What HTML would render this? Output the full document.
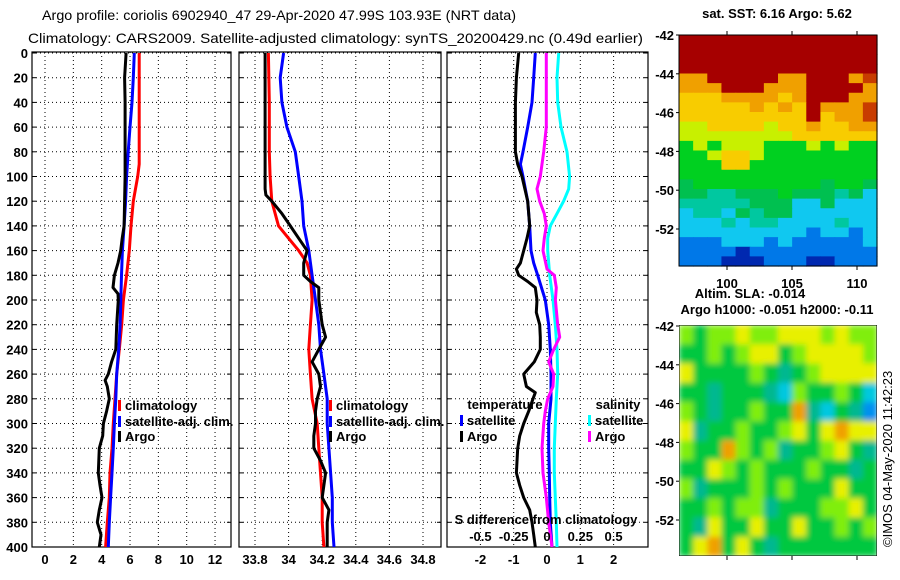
<!DOCTYPE html>
<html><head><meta charset="utf-8"><style>
html,body{margin:0;padding:0;background:#fff;}
svg{display:block;font-family:"Liberation Sans",sans-serif;}
.t{font-size:13px;font-weight:bold;fill:#000;}
.h{font-size:14px;fill:#000;}
</style></head><body>
<svg id="chart" width="900" height="580" viewBox="0 0 900 580" xmlns="http://www.w3.org/2000/svg">
<defs>
<clipPath id="c1"><rect x="32" y="52" width="199" height="495"/></clipPath>
<clipPath id="c2"><rect x="239" y="52" width="202" height="495"/></clipPath>
<clipPath id="c3"><rect x="447" y="52" width="201" height="495"/></clipPath>
<clipPath id="cm2"><rect x="679" y="325" width="198" height="231"/></clipPath>
<filter id="blur"><feGaussianBlur stdDeviation="3"/></filter>
</defs>
<text class="h" x="42" y="20" textLength="474" lengthAdjust="spacingAndGlyphs">Argo profile: coriolis 6902940_47 29-Apr-2020 47.99S 103.93E (NRT data)</text>
<text class="h" x="28" y="43" textLength="615" lengthAdjust="spacingAndGlyphs">Climatology: CARS2009. Satellite-adjusted climatology: synTS_20200429.nc (0.49d earlier)</text>
<g id="g"></g>
</svg>
<script>
// ---- depth grid shared
const yTicks=[0,20,40,60,80,100,120,140,160,180,200,220,240,260,280,300,320,340,360,380,400];
// ---- Panel 1: temperature
const tTicks=[0,2,4,6,8,10,12];
const tClimDepth=[0,90,100,120,140,160,180,200,220,240,260,280,300,320,340,360,380,400];
const tClim=[6.65,6.65,6.54,6.23,6.07,5.95,5.76,5.53,5.41,5.24,5.06,4.94,4.82,4.73,4.59,4.54,4.40,4.28];
const tSatDepth=[0,20,40,60,80,100,120,140,160,180,200,220,240,260,280,300,320,340,360,380,400];
const tSat=[6.3,6.23,6.14,6.0,5.87,5.76,5.69,5.58,5.46,5.4,5.35,5.3,5.2,5.06,5.0,4.9,4.82,4.73,4.63,4.54,4.47];
const tArgoDepth=[0,20,40,100,140,150,160,170,180,190,195,200,220,240,250,260,265,270,280,290,300,310,320,340,350,360,370,380,390,400];
const tArgo=[5.72,5.62,5.65,5.65,5.58,5.45,5.34,5.15,4.9,4.8,5.15,5.17,5.06,5.0,4.7,4.47,4.24,4.4,4.54,4.35,4.12,4.07,3.83,3.76,3.88,4.02,3.83,3.69,3.95,3.83];
// ---- Panel 2: salinity
const sTicks=[33.8,34,34.2,34.4,34.6,34.8];
const sClimDepth=[0,40,80,100,120,140,150,160,170,180,200,220,240,260,280,300,320,340,360,380,400];
const sClim=[33.88,33.885,33.885,33.89,33.9,33.94,34.0,34.06,34.11,34.13,34.14,34.13,34.12,34.13,34.14,34.17,34.18,34.19,34.2,34.2,34.21];
const sSatDepth=[0,20,40,60,80,100,120,140,160,180,200,220,240,260,280,300,320,340,360,380,400];
const sSat=[33.97,33.95,33.96,33.99,34.04,34.06,34.08,34.09,34.12,34.14,34.16,34.18,34.19,34.21,34.23,34.23,34.24,34.25,34.26,34.26,34.27];
const sArgoDepth=[0,110,115,120,130,140,150,160,170,180,185,190,200,220,230,240,250,260,270,280,290,300,310,320,330,340,350,360,370,380,400];
const sArgo=[33.86,33.86,33.865,33.9,33.96,34.01,34.06,34.11,34.09,34.09,34.13,34.18,34.18,34.2,34.22,34.18,34.14,34.18,34.19,34.17,34.16,34.16,34.15,34.15,34.19,34.22,34.21,34.2,34.24,34.23,34.23];
// ---- Panel 3: differences
const dTicks=[-2,-1,0,1,2];
const sdTicks=[-0.5,-0.25,0,0.25,0.5];
const dtSatDepth=[0,20,40,60,80,90,100,120,140,160,170,180,200,220,240,260,280,300,320,340,360,380,400];
const dtSat=[-0.35,-0.4,-0.45,-0.58,-0.72,-0.8,-0.72,-0.58,-0.52,-0.48,-0.4,-0.28,-0.05,0.05,0.1,0.12,0.12,0.05,0.05,0.07,0.08,0.1,0.15];
const dtArgoDepth=[0,20,40,80,90,100,120,140,150,160,170,175,180,185,190,200,210,220,230,240,250,260,270,275,280,290,300,310,320,340,350,360,370,380,390,400];
const dtArgo=[-0.85,-0.92,-0.95,-0.95,-0.88,-0.75,-0.58,-0.52,-0.6,-0.7,-0.8,-0.92,-0.85,-0.58,-0.35,-0.3,-0.32,-0.22,-0.2,-0.2,-0.38,-0.7,-0.62,-0.35,-0.42,-0.55,-0.7,-0.82,-0.88,-0.92,-0.82,-0.7,-0.52,-0.45,-0.4,-0.35];
const dsSatDepth=[0,20,40,60,80,100,110,120,130,140,150,160,180,200,220,240,260,280,300,320,340,360,380,400];
const dsSat=[0.0875,0.075,0.08,0.105,0.15,0.17,0.163,0.125,0.075,0.025,0.005,0.005,0.02,0.045,0.0625,0.075,0.08,0.07,0.0625,0.055,0.055,0.0625,0.07,0.075];
const dsArgoDepth=[0,60,80,100,110,120,130,140,150,160,175,180,190,200,220,230,240,250,260,270,280,290,300,320,340,360,380,400];
const dsArgo=[-0.005,-0.005,-0.025,-0.05,-0.075,-0.055,-0.02,-0.005,-0.02,-0.03,0,0.055,0.07,0.063,0.08,0.095,0.05,0.0125,0.05,0.045,0.005,-0.0125,-0.025,-0.0375,-0.03,-0.005,0.0125,0.0375];
// ---- maps
const latTicks=[-42,-44,-46,-48,-50,-52];
const lonTicks=[100,105,110];
const sstGrid=[
"RRRRRRRRRRRRRR","RRRRRRRRRRRRRR","RRRRRRRRRRRRRR","RRRRRRRRRRRRRR",
"OORRRRROORRROQ","OOORRROOORRRRO","YYYOOOOYORRROO","YYYYYOYOYROOOQ",
"YYYYYYYYYRYOOQ","LLYYYYLYYOYYOO","LLLLLLLLYYYYYY","GLGLLLGGGLGLGG",
"GGLYYLGGGGGGGG","GGGYYGGGGGGGGG","GGGGGGGGGGGGGG","NGGGGGGGGGNGGN",
"NNTTNNNGNNNTNC","TTTTTNNNCCNCCC","CTTCNTNNCCCCCC","CCCTCTTCCCCTCC",
"CCCCCCCCCBCCBC","BBBCCCBCBBBBBC","BBBBDBBBBBBBBB","BBBDDDBBBDDBBB"];
const sstColors={R:"#a60000",Q:"#c83c00",O:"#f0a000",Y:"#f8cc00",L:"#c8f000",G:"#00d020",N:"#00c050",T:"#00c8a0",C:"#10c8f0",B:"#0078e8",D:"#0028b0"};
const slaGrid=[
"LGLLYLLYYYLYLL","GGLGLYYGLYYYYL","YGGGGLGTGLYYYY","GGTGGGTCLGGLGC",
"LGTGGLGGOTCGTB","YTGGLGGLYGYOYY","LGGOLGLTGGLYGT","GGYLGLGGGLGGTG",
"LTGGGLGLGGGYGG","GGLGLLTGGGLLYG","GTYGGYGGYGGLGL","GYOGYGTGGGGGGG"];
const slaColors={G:"#00c840",L:"#80ee10",Y:"#e8f000",O:"#f0a000",T:"#00b890",C:"#00c8e0",B:"#0090f0"};

const NS="http://www.w3.org/2000/svg";
const G=document.getElementById('g');
function mk(tag,attrs,parent){const e=document.createElementNS(NS,tag);for(const k in attrs)e.setAttribute(k,attrs[k]);(parent||G).appendChild(e);return e;}
const yD=d=>53+d*1.235;
const x1=v=>45+v*14.17;
const x2=v=>255+(v-33.8)*168;
const x3=v=>547+v*33.3;
const x3s=v=>547+v*133.2;
const panels=[{l:32,r:231,x:x1,ticks:tTicks,n:'temperature'},{l:239,r:441,x:x2,ticks:sTicks,n:'salinity'},{l:447,r:648,x:x3,ticks:dTicks,n:'difference'}];
panels.forEach((p,i)=>{
  const pg=mk('g',{});
  
  
  yTicks.forEach(d=>{
    const l=mk('line',{x1:p.l,x2:p.r,y1:yD(d),y2:yD(d),stroke:'#000','stroke-width':1,'stroke-dasharray':'1,3'},pg);
    
    
    mk('line',{x1:p.l,x2:p.l+4,y1:yD(d),y2:yD(d),stroke:'#000'},pg);
    mk('line',{x1:p.r-4,x2:p.r,y1:yD(d),y2:yD(d),stroke:'#000'},pg);
  });
  p.ticks.forEach(v=>{
    const l=mk('line',{x1:p.x(v),x2:p.x(v),y1:52,y2:547,stroke:'#000','stroke-width':1,'stroke-dasharray':'1,3'},pg);
    
    
    const t=mk('text',{x:p.x(v),y:564,'text-anchor':'middle',class:'t'},pg);
    t.textContent=String(v);
    
    
  });
  const fr=mk('rect',{x:p.l,y:52,width:p.r-p.l,height:495,fill:'none',stroke:'#000','stroke-width':1.2},pg);
  
  
});
yTicks.forEach(d=>{
  const t=mk('text',{x:28,y:yD(d)+5,'text-anchor':'end',class:'t'});
  t.textContent=String(d);
  
  
});
function line(depths,vals,xf,color,clip,name){
  const pts=depths.map((d,i)=>xf(vals[i]).toFixed(1)+','+yD(d).toFixed(1)).join(' ');
  const pl=mk('polyline',{points:pts,fill:'none',stroke:color,'stroke-width':3,'stroke-linejoin':'round','clip-path':'url(#'+clip+')'});
  
  
}
line(tClimDepth,tClim,x1,'#ff0000','c1','temp-climatology-line');
line(tSatDepth,tSat,x1,'#0000ff','c1','temp-satellite-line');
line(tArgoDepth,tArgo,x1,'#000','c1','temp-argo-line');
line(sClimDepth,sClim,x2,'#ff0000','c2','sal-climatology-line');
line(sSatDepth,sSat,x2,'#0000ff','c2','sal-satellite-line');
line(sArgoDepth,sArgo,x2,'#000','c2','sal-argo-line');
line(dtSatDepth,dtSat,x3,'#0000ff','c3','temp-diff-satellite-line');
line(dtArgoDepth,dtArgo,x3,'#000','c3','temp-diff-argo-line');
line(dsSatDepth,dsSat,x3s,'#00ffff','c3','sal-diff-satellite-line');
line(dsArgoDepth,dsArgo,x3s,'#ff00ff','c3','sal-diff-argo-line');
function leg(x,y,color,label){
  const g=mk('g',{});
  
  
  mk('rect',{x:x,y:y-10,width:3,height:11,fill:color},g);
  const t=mk('text',{x:x+7,y:y,class:'t'},g);t.textContent=label;
}
function txt(x,y,s,name,anchor){const t=mk('text',{x:x,y:y,class:'t','text-anchor':anchor||'start'});t.textContent=s;return t;}
leg(118,410,'#ff0000','climatology');leg(118,426,'#0000ff','satellite-adj. clim.');leg(118,441,'#000','Argo');
leg(329,410,'#ff0000','climatology');leg(329,426,'#0000ff','satellite-adj. clim.');leg(329,441,'#000','Argo');
txt(505,409,'temperature','legend-title-temperature','middle');
leg(460,425,'#0000ff','satellite');leg(460,441,'#000','Argo');
txt(618,409,'salinity','legend-title-salinity','middle');
leg(588,425,'#00ffff','satellite');leg(588,441,'#ff00ff','Argo');
txt(546,524,'S difference from climatology','s-diff-axis-title','middle');
sdTicks.forEach(v=>{const t=txt(x3(v*4),541,String(v),'s-diff-tick-label','middle');});
// maps
function map(grid,colors,x0,y0,w,h,name,blur){
  const g=mk('g',{});
  
  
  let inner=g;
  if(blur){g.setAttribute('clip-path','url(#cm2)');inner=mk('g',{filter:'url(#blur)'},g);}
  const rows=grid.length,cols=grid[0].length,cw=w/cols,rh=h/rows;
  grid.forEach((row,r)=>{[...row].forEach((ch,c)=>{mk('rect',{x:x0+c*cw,y:y0+r*rh,width:cw+0.6,height:rh+0.6,fill:colors[ch]},inner);});});
  mk('rect',{x:x0,y:y0,width:w,height:h,fill:'none',stroke:'#000','stroke-width':1},g);
}
map(sstGrid,sstColors,679,35,198,231,'sst-map',false);
map(slaGrid,slaColors,679,325,198,231,'sla-map',true);
[[35,'sst'],[326,'sla']].forEach(([top,n])=>{
  latTicks.forEach(v=>{
    const y=top+(-42-v)*19.4;
    txt(674,y+5,String(v),n+'-lat-label','end');
    mk('line',{x1:676,x2:679,y1:y,y2:y,stroke:'#000'});
  });
});
lonTicks.forEach(v=>{const x=727+(v-100)*13;txt(x,288,String(v),'sst-lon-label','middle');
  mk('line',{x1:x,x2:x,y1:266,y2:270,stroke:'#000'});mk('line',{x1:x,x2:x,y1:31,y2:35,stroke:'#000'});
  mk('line',{x1:x,x2:x,y1:556,y2:560,stroke:'#000'});});
txt(777,18,'sat. SST: 6.16 Argo: 5.62','sst-map-title','middle');
txt(750,298,'Altim. SLA: -0.014','sla-map-title','middle');
txt(777,314,'Argo h1000: -0.051 h2000: -0.11','argo-height-label','middle');
const cr=txt(0,0,'©IMOS 04-May-2020 11:42:23','copyright-label','start');
cr.setAttribute('transform','translate(892,547) rotate(-90)');
cr.setAttribute('style','font-weight:normal;font-size:13px');
</script>
</body></html>
